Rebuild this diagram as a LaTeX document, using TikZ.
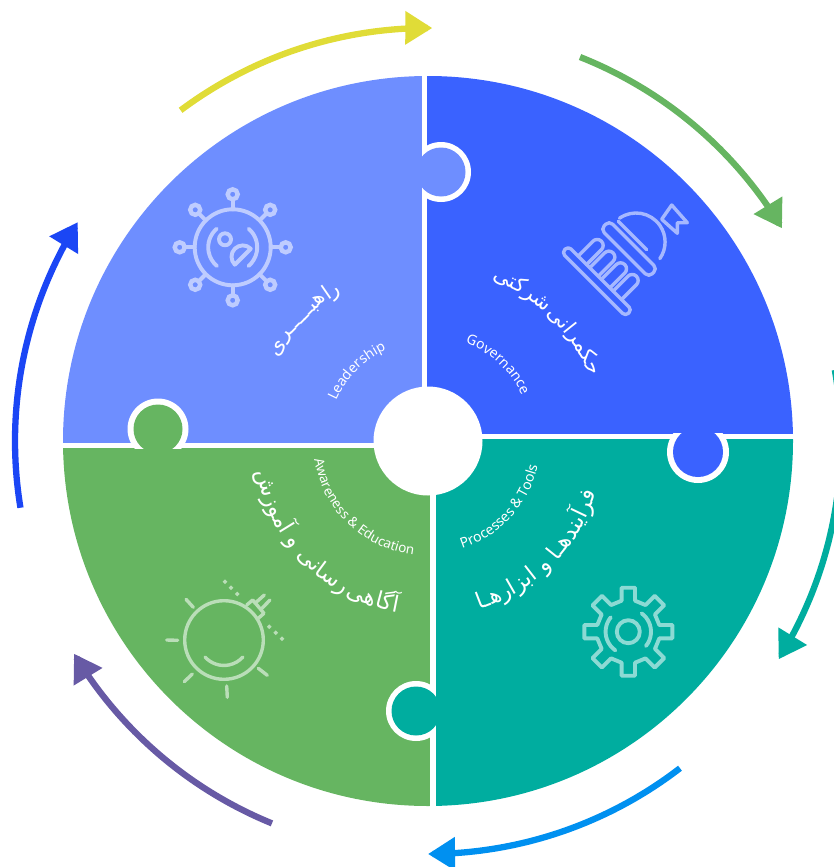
\documentclass[tikz,border=0pt]{standalone}
\usepackage{fontspec}
\setmainfont{Noto Sans}
\newfontfamily\fafont[Script=Arabic]{DejaVu Sans}
\TeXXeTstate=1
\usetikzlibrary{arrows.meta}
\definecolor{cLead}{HTML}{6E8EFF}
\definecolor{cGov}{HTML}{3A62FF}
\definecolor{cProc}{HTML}{00AD9F}
\definecolor{cAware}{HTML}{66B561}
\definecolor{cYellow}{HTML}{E0DC37}
\definecolor{cSky}{HTML}{0090F0}
\definecolor{cPurple}{HTML}{675AA5}
\definecolor{cDeep}{HTML}{1B46F5}
\newdimen\chtot \newdimen\chw \newdimen\chpos
\newbox\chbox
\newcount\chidx
\newcommand\fmtfa[1]{\fafont\fontsize{21}{25}\selectfont\beginR#1\endR}
\newcommand\fmtfb[1]{\fafont\fontsize{22.5}{26}\selectfont\beginR#1\endR}
\newcommand\fmtla[1]{\fontsize{14}{16}\selectfont#1}
\newcommand\fmtlb[1]{\fontsize{13.4}{15}\selectfont#1}
\newcommand\chmeasure[1]{\setbox\chbox=\hbox{\pgfinterruptpicture#1\endpgfinterruptpicture}\chw=\wd\chbox}
% #1 format #2 dir (1 clockwise, tops outward; -1 counter-clockwise, tops inward) #3 radius #4 mid angle #5 chunks, visual left to right
\newcommand\arcchunks[5]{%
  \global\chtot=0pt
  \foreach \chk in {#5}{\chmeasure{#1{\chk}}\global\advance\chtot by \chw}
  \global\chpos=0pt
  \foreach \chk in {#5}{%
    \chmeasure{#1{\chk}}%
    \pgfmathsetmacro\chs{\chpos+0.5*\chw-0.5*\chtot}%
    \pgfmathsetmacro\cang{#4-(#2)*\chs/(#3)*57.29578}%
    \pgfmathsetmacro\crot{\cang-(#2)*90}%
    \global\advance\chidx by 1
    \node[anchor=base,inner sep=0pt,text=white,rotate=\crot,name=txt\the\chidx]
      at ({428+(#3)*cos(\cang)},{441-(#3)*sin(\cang)}) {#1{\chk}};
    \global\advance\chpos by \chw
  }%
}
\newcommand\ringarrow[3]{%
  \draw[ringline,#1] plot[domain=#2:#3,samples=60] ({428+413*cos(\x)},{441-413*sin(\x)});
}
\newcommand\dotdiamond[2]{\fill[iconfill] (#1,#2-2.4) -- (#1+2.4,#2) -- (#1,#2+2.4) -- (#1-2.4,#2) -- cycle;}
\tikzset{
  ringline/.style={line width=6.3pt,-{Triangle[length=27pt,width=32pt]}},
  iconline/.style={draw=iconc,line width=3.4pt,line cap=round,line join=round},
  iconthick/.style={iconline,line width=3.9pt},
  iconfill/.style={fill=iconc},
  gapring/.style={fill=white},
}
\begin{document}
\begin{tikzpicture}[x=1pt,y=-1pt]
\useasboundingbox (0,0) rectangle (834,867);
\clip (0,0) rectangle (834,867);
% quadrants
\begin{scope}
  \clip (428,441) circle[radius=365pt];
  \fill[cLead] (0,0) rectangle (422,443);
  \fill[cGov] (427,0) rectangle (834,433.5);
  \fill[cProc] (435.5,438.5) rectangle (834,867);
  \fill[cAware] (0,448) rectangle (430,867);
\end{scope}
% tabs: the white rim shows only on the neighbour's side
\begin{scope}
  \clip (422,100) rectangle (500,250);
  \fill[gapring] (441,172) circle[radius=30pt];
\end{scope}
\fill[cLead] (441,172) circle[radius=24.5pt];
\begin{scope}
  \clip (650,433.5) rectangle (750,500);
  \fill[gapring] (698,452) circle[radius=31pt];
\end{scope}
\fill[cGov] (698,452) circle[radius=25pt];
\begin{scope}
  \clip (370,670) rectangle (435.5,750);
  \fill[gapring] (416,711) circle[radius=30pt];
\end{scope}
\fill[cProc] (416,711) circle[radius=24.5pt];
\begin{scope}
  \clip (110,390) rectangle (200,448);
  \fill[gapring] (158,429) circle[radius=30.5pt];
\end{scope}
\fill[cAware] (158,429) circle[radius=24.5pt];
% hub
\fill[white] (428,441) circle[radius=54.5pt];
% outer arrows
\ringarrow{cYellow}{126.8}{89.4}
\ringarrow{cAware}{68.4}{31}
\ringarrow{cProc}{9.9}{-31.9}
\ringarrow{cSky}{-52.4}{-90}
\ringarrow{cPurple}{-112.2}{-149}
\ringarrow{cDeep}{-170.7}{-212}
% latin labels
\arcchunks{\fmtla}{1}{105}{47.5}{G,o,v,e,r,n,a,n,c,e}
\arcchunks{\fmtla}{1}{100}{135.5}{L,e,a,d,e,r,s,h,i,p}
\arcchunks{\fmtla}{-1}{113}{-42.5}{P,r,o,c,e,s,s,e,s,{\ },\&,{\ },T,o,o,l,s}
\arcchunks{\fmtlb}{-1}{115}{226}{A,w,a,r,e,n,e,s,s,{\ },\&,{\ },E,d,u,c,a,t,i,o,n}
% persian labels
\arcchunks{\fmtfa}{1}{174}{45}{کتی,شر,{\kern2pt},نی,ا,حکمر}
\arcchunks{\fmtfa}{1}{172}{135.5}{ی,هبـــــر,ا,ر}
\arcchunks{\fmtfb}{-1}{176}{-45}{هـا,ر,ا,بز,ا,{\ },و,{\ },هـا,یند,آ,فر}
\arcchunks{\fmtfb}{-1}{174}{225}{ش,ز,مو,آ,{\ },و,{\ },نی,سا,ر,{\kern2pt},هی,گا,آ}
% capitol icon
\colorlet{iconc}{white!55!cGov}
\begin{scope}[shift={(629,249)},x=1pt,y=1pt,rotate=-45]
  \draw[iconline,rounded corners=5pt] (-34,-6) rectangle (34,6);
  \draw[iconline] (-27,12) -- (13,12);
  \draw[iconline,rounded corners=4pt] (-45,-50) rectangle (45,-41);
  \foreach \cx in {-25,-8.5,8,24.5}{
    \draw[iconline] (\cx-6,-41) -- (\cx-6,-20) arc (180:0:6pt) -- (\cx+6,-41);
  }
  \draw[iconline] (-28.5,15) arc (170:10:29pt);
\end{scope}
\draw[iconline] (661.7,219.3) -- (671.7,205) -- (687.3,222.7) -- (677.3,222.7) -- (677.3,233.3) -- cycle;
% leadership icon
\colorlet{iconc}{white!55!cLead}
\draw[iconthick] (232.7,247.3) circle[radius=38pt];
\foreach \a in {0,45,...,315}{
  \draw[iconthick] ({232.7+38*cos(\a)},{247.3+38*sin(\a)}) -- ({232.7+47*cos(\a)},{247.3+47*sin(\a)});
  \draw[draw=iconc,line width=4.4pt] ({232.7+53*cos(\a)},{247.3+53*sin(\a)}) circle[radius=5pt];
}
\begin{scope}[shift={(232.7,247.3)},x=1pt,y=1pt]
  \draw[iconthick] (131:24.5) arc (131:230:24.5pt);
  \draw[iconthick] (49:24.5) arc (49:-50:24.5pt);
\end{scope}
\draw[iconthick] (225,239.3) circle[radius=6pt];
\begin{scope}[shift={(242.8,256.7)},x=1pt,y=1pt]
  \draw[iconthick] (45:11.3) arc (45:225:11.3pt) -- cycle;
\end{scope}
% bulb icon
\colorlet{iconc}{white!55!cAware}
\draw[iconline] (224,640) circle[radius=39.3pt];
\begin{scope}[shift={(224,640)},x=1pt,y=1pt]
  \draw[iconline] (-19,-17) arc (222:318:25.5pt);
\end{scope}
\draw[iconline] (186,599.3) -- (193.3,607.3);
\draw[iconline] (166.7,640) -- (177.7,640.3);
\draw[iconline] (184.3,681.7) -- (192.3,674);
\draw[iconline] (226.7,686) -- (227.3,697.3);
\draw[iconline] (258.3,668.3) -- (267.3,675.3);
\draw[iconline] (246.7,605) -- (252.7,600) -- (264,613.3) -- (258.3,618.3);
\draw[iconline] (255,603.3) -- (264.3,595);
\draw[iconline] (261,609.3) -- (270,600);
\foreach \dx/\dy in {225/581.7,231/587.7,237.3/594,269.3/626.7,275.7/632.7,282/638.7}{
  \dotdiamond{\dx}{\dy}
}
% gear icon
\colorlet{iconc}{white!55!cProc}
\draw[iconthick] ({628.3-6.7},{631.7-31})
  \foreach \a in {0,45,...,315}{
    -- ({628.3-6.7*cos(\a)+31*sin(\a)},{631.7-6.7*sin(\a)-31*cos(\a)})
    -- ({628.3-6.7*cos(\a)+44*sin(\a)},{631.7-6.7*sin(\a)-44*cos(\a)})
    -- ({628.3+6.7*cos(\a)+44*sin(\a)},{631.7+6.7*sin(\a)-44*cos(\a)})
    -- ({628.3+6.7*cos(\a)+31*sin(\a)},{631.7+6.7*sin(\a)-31*cos(\a)})
  } -- cycle;
\draw[iconthick] (628.3,631.7) circle[radius=11.5pt];
\begin{scope}[shift={(628.3,631.7)},x=1pt,y=1pt]
  \draw[iconthick] (140.7:22.7) arc (140.7:235.4:22.7pt);
  \draw[iconthick] (54:22.7) arc (54:-39:22.7pt);
\end{scope}
\end{tikzpicture}
\end{document}
